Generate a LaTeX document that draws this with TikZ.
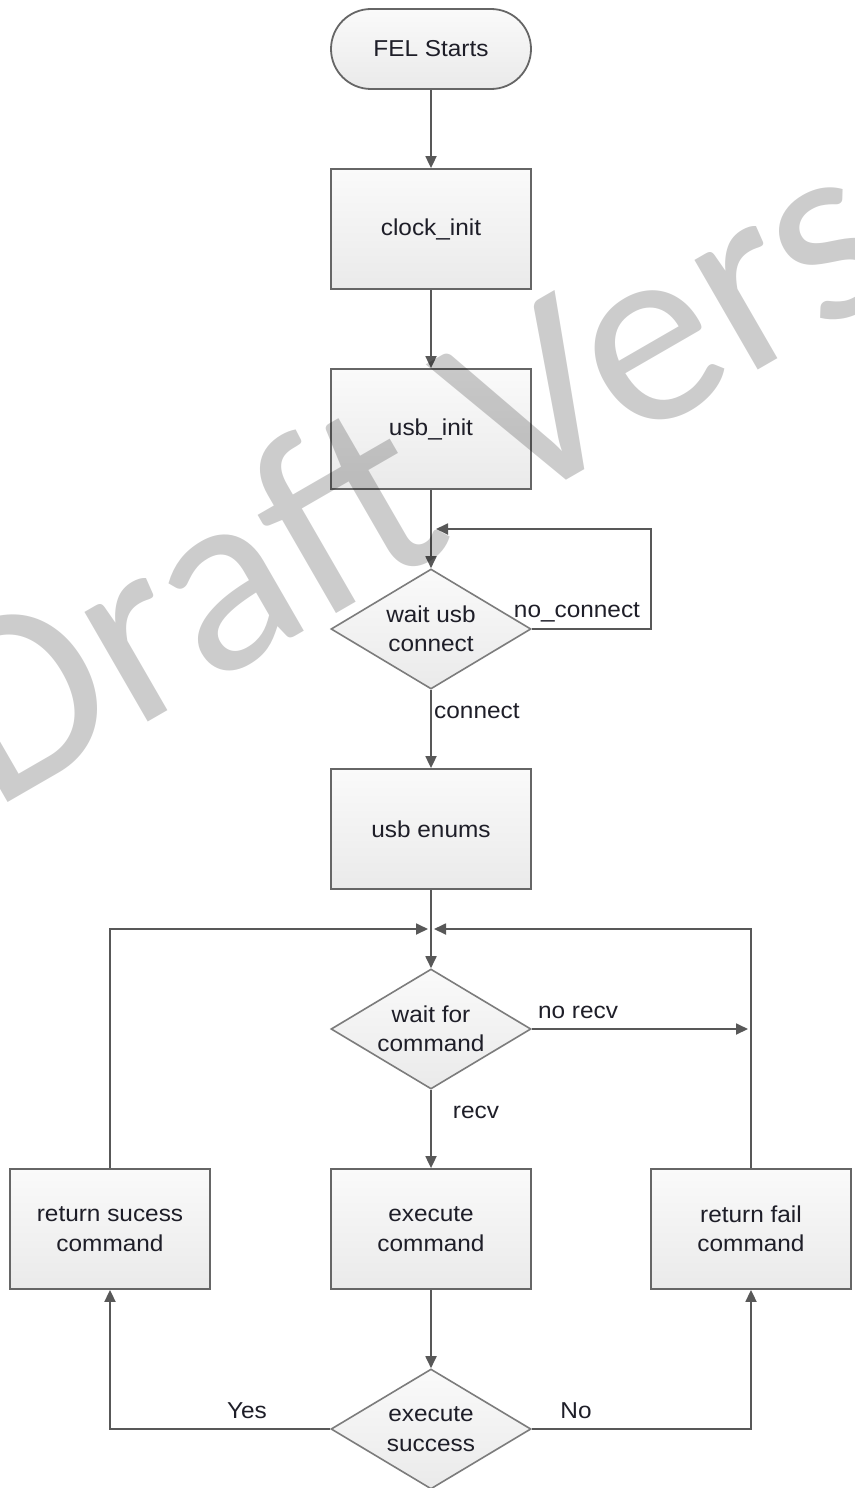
\documentclass[tikz,border=0pt]{standalone}
\usepackage{fontspec}
\setmainfont{Liberation Sans}[FakeStretch=1.06]
\newfontfamily\wmfont{Carlito}
\usetikzlibrary{arrows.meta,shapes.geometric,shapes.misc}
\definecolor{ln}{HTML}{585858}
\definecolor{bd}{HTML}{666666}
\definecolor{dbd}{HTML}{7C7C7C}
\definecolor{txt}{HTML}{1E1E28}
\definecolor{ftop}{HTML}{FAFAFA}
\definecolor{fbot}{HTML}{EAEAEA}
\begin{document}
\begin{tikzpicture}[x=1pt,y=-1pt,
  every node/.style={font=\fontsize{23}{29.5}\selectfont, text=txt},
  proc/.style={rectangle, draw=bd, line width=1.8pt, top color=ftop, bottom color=fbot,
    minimum width=200pt, minimum height=120pt, inner sep=0pt, align=center},
  term/.style={rounded rectangle, draw=bd, line width=1.8pt, top color=ftop, bottom color=fbot,
    minimum width=200pt, minimum height=80pt, inner sep=0pt, align=center},
  decide/.style={diamond, draw=dbd, line width=1.6pt, top color=ftop, bottom color=fbot,
    minimum width=200pt, minimum height=120pt, aspect=1.667, inner sep=0pt, align=center},
  lab/.style={inner sep=0pt, anchor=base},
  conn/.style={draw=ln, line width=1.8pt, -{Triangle[length=12pt,width=11pt]}},
  wire/.style={draw=ln, line width=1.8pt}]
\useasboundingbox (0,0) rectangle (854,1488);
\fill[white] (0,0) rectangle (854,1488);

% nodes
\node[term]   (start) at (431,49)   {FEL Starts};
\node[proc]   (clock) at (431,229)  {clock\_init};
\node[proc]   (usbi)  at (431,429)  {usb\_init};
\node[decide] (wusb)  at (431,629)  {wait usb\\connect};
\node[proc]   (enum)  at (431,829)  {usb enums};
\node[decide] (wcmd)  at (431,1029) {wait for\\command};
\node[proc]   (rs)    at (110,1229) {return sucess\\command};
\node[proc]   (exec)  at (431,1229) {execute\\command};
\node[proc]   (rf)    at (751,1229) {return fail\\command};
\node[decide] (esuc)  at (431,1429) {execute\\success};

% helper coordinates
\coordinate (loopR) at (651,629);
\coordinate (loopT) at (651,529);
\coordinate (loopE) at (436,529);
\coordinate (jL) at (428,929);
\coordinate (jR) at (434,929);
\coordinate (nrE) at (748,1029);

% connectors
\draw[conn] (start.south) -- (clock.north);
\draw[conn] (clock.south) -- (usbi.north);
\draw[conn] (usbi.south) -- (wusb.north);
\draw[conn] (wusb.east) -- (loopR) -- (loopT) -- (loopE);
\draw[conn] (wusb.south) -- (enum.north);
\draw[conn] (enum.south) -- (wcmd.north);
\draw[conn] (rs.north) |- (jL);
\draw[conn] (rf.north) |- (jR);
\draw[conn] (wcmd.east) -- (nrE);
\draw[conn] (wcmd.south) -- (exec.north);
\draw[conn] (exec.south) -- (esuc.north);
\draw[conn] (esuc.west) -| (rs.south);
\draw[conn] (esuc.east) -| (rf.south);

% labels
\node[lab] (lnc) at (577,617)  {no\_connect};
\node[lab, anchor=base west] (lc) at (434,718) {connect};
\node[lab] (lnr) at (578,1018) {no recv};
\node[lab] (lr)  at (476,1118) {recv};
\node[lab] (ly)  at (247,1418) {Yes};
\node[lab] (lno) at (576,1418) {No};

% watermark
\begin{scope}
\clip (0,0) rectangle (854,1488);
\node[inner sep=0pt, anchor=base west, rotate=30, text=black, text opacity=0.2,
  font=\wmfont\fontsize{265}{265}\selectfont] (wm) at (-8,812) {Draft Vers};
\end{scope}
\end{tikzpicture}
\end{document}
